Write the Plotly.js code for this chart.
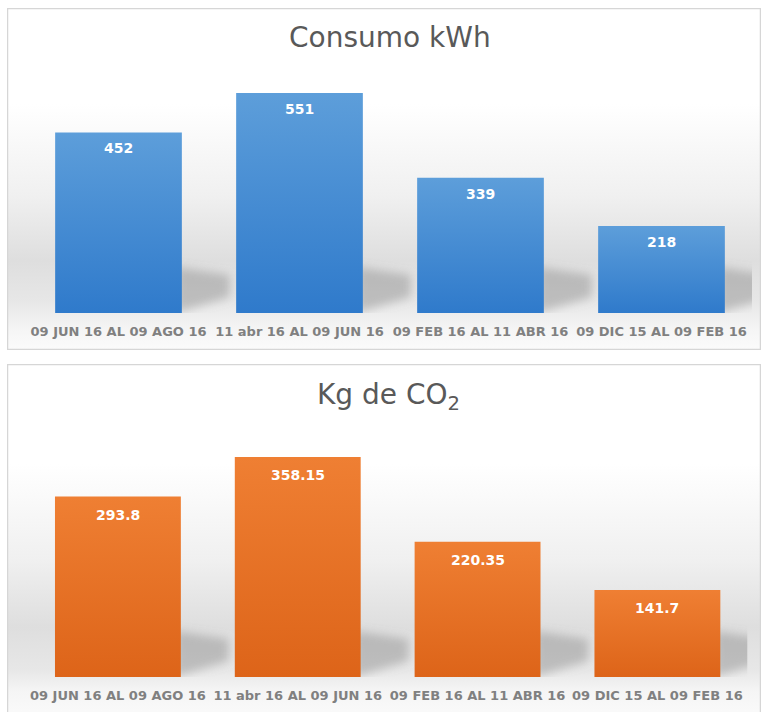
<!DOCTYPE html>
<html>
<head>
<meta charset="utf-8">
<script src="https://cdn.plot.ly/plotly-3.0.1.min.js"></script>
<style>
  html, body { margin: 0; padding: 0; background: #ffffff; }
  #chart { width: 763px; height: 712px; }
</style>
</head>
<body>
<svg width="0" height="0" style="position:absolute">
  <defs>
    <linearGradient id="gradBlue" x1="0" y1="0" x2="0" y2="1">
      <stop offset="0" stop-color="#5D9EDA"/>
      <stop offset="1" stop-color="#2F7ACB"/>
    </linearGradient>
    <linearGradient id="gradOrange" x1="0" y1="0" x2="0" y2="1">
      <stop offset="0" stop-color="#EF7F33"/>
      <stop offset="1" stop-color="#DD6419"/>
    </linearGradient>
    <filter id="shadowBlur" x="-50%" y="-50%" width="200%" height="200%">
      <feGaussianBlur stdDeviation="5"/>
    </filter>
  </defs>
</svg>
<div id="chart"></div>
<script>
// ---- data ----
const categories = [
  "09 JUN 16 AL 09 AGO 16",
  "11 abr 16 AL 09 JUN 16",
  "09 FEB 16 AL 11 ABR 16",
  "09 DIC 15 AL 09 FEB 16"
];
const kwhValues = [452, 551, 339, 218];
const co2Values = [293.8, 358.15, 220.35, 141.7];
const titleTop = "Consumo kWh";
const titleBottom = "Kg de CO<sub>2</sub>";

// ---- styling helpers ----
const W = 763, H = 712;
function panelSvg(w, h, stops) {
  let s = '<svg xmlns="http://www.w3.org/2000/svg" width="' + w + '" height="' + h + '">' +
    '<defs><linearGradient id="g" x1="0" y1="0" x2="0" y2="1">';
  stops.forEach(st => { s += '<stop offset="' + st[0] + '" stop-color="' + st[1] + '"/>'; });
  s += '</linearGradient></defs>' +
    '<rect x="0.5" y="0.5" width="' + (w - 1) + '" height="' + (h - 1) + '" fill="url(#g)" stroke="#d6d6d6" stroke-width="1.5"/></svg>';
  return 'data:image/svg+xml;charset=utf-8,' + encodeURIComponent(s);
}

const tickFont = { family: 'DejaVu Sans', size: 13, color: '#808080', weight: 'bold' };
const valueFont = { family: 'DejaVu Sans', size: 14, color: '#ffffff', weight: 'bold' };
const titleFont = { family: 'DejaVu Sans', size: 28, color: '#595959' };

const traces = [
  {
    type: 'bar', x: categories, y: kwhValues, xaxis: 'x', yaxis: 'y',
    marker: { color: '#4A8CD3' }, hoverinfo: 'skip', showlegend: false
  },
  {
    type: 'bar', x: categories, y: co2Values, xaxis: 'x2', yaxis: 'y2',
    marker: { color: '#E8732A' }, hoverinfo: 'skip', showlegend: false
  }
];

const annotations = [
  { xref: 'paper', yref: 'paper', x: 390 / W, y: (H - 37) / H, text: titleTop,
    showarrow: false, xanchor: 'center', yanchor: 'middle', font: titleFont },
  { xref: 'paper', yref: 'paper', x: 388 / W, y: (H - 396) / H, text: titleBottom,
    showarrow: false, xanchor: 'center', yanchor: 'middle', font: titleFont }
];
kwhValues.forEach((v, i) => annotations.push({
  xref: 'x', yref: 'y', x: i, y: v, text: String(v), showarrow: false,
  yanchor: 'top', yshift: -6, font: valueFont
}));
co2Values.forEach((v, i) => annotations.push({
  xref: 'x2', yref: 'y2', x: i, y: v, text: String(v), showarrow: false,
  yanchor: 'top', yshift: -8, font: valueFont
}));

const shapes = [];
function addShadows(xref, yref, n) {
  for (let i = 0; i < n; i++) {
    shapes.push({
      type: 'path', xref: xref, yref: yref, xsizemode: 'pixel', ysizemode: 'pixel',
      xanchor: i + 0.35, yanchor: 0, layer: 'below',
      path: 'M-6,0 L-6,46 L48,38 L48,16 Z',
      fillcolor: 'rgba(130,130,130,0.42)', line: { width: 0 }
    });
  }
}
addShadows('x', 'y', kwhValues.length);
addShadows('x2', 'y2', co2Values.length);

const axisX = {
  type: 'category', showgrid: false, zeroline: false, showline: false,
  ticks: 'outside', ticklen: 6, tickcolor: 'rgba(0,0,0,0)', tickangle: 0,
  tickfont: tickFont, fixedrange: true, range: [-0.5, categories.length - 0.5]
};
const axisY = {
  showgrid: false, zeroline: false, showline: false, showticklabels: false,
  ticks: '', fixedrange: true
};

const layout = {
  width: W, height: H,
  margin: { l: 0, r: 0, t: 0, b: 0 },
  paper_bgcolor: '#ffffff', plot_bgcolor: 'rgba(0,0,0,0)',
  bargap: 0.3,
  showlegend: false,
  xaxis: Object.assign({}, axisX, { domain: [28 / W, 752 / W], anchor: 'y' }),
  yaxis: Object.assign({}, axisY, { domain: [(H - 313) / H, (H - 73.4) / H], range: [0, 600], anchor: 'x' }),
  xaxis2: Object.assign({}, axisX, { domain: [28 / W, 747.3 / W], anchor: 'y2' }),
  yaxis2: Object.assign({}, axisY, { domain: [(H - 677) / H, (H - 431.4) / H], range: [0, 400], anchor: 'x2' }),
  annotations: annotations,
  shapes: shapes,
  images: [
    { source: panelSvg(754, 342, [
        [0, '#ffffff'], [0.28, '#ffffff'], [0.55, '#f0f0f0'], [0.74, '#dedede'],
        [0.86, '#e7e7e7'], [0.94, '#f5f5f5'], [1, '#fbfbfb']]),
      xref: 'paper', yref: 'paper',
      x: 7 / W, y: (H - 8) / H, sizex: 754 / W, sizey: 342 / H,
      xanchor: 'left', yanchor: 'top', sizing: 'stretch', layer: 'below' },
    { source: panelSvg(754, 356, [
        [0, '#ffffff'], [0.28, '#ffffff'], [0.55, '#f0f0f0'], [0.74, '#dedede'],
        [0.86, '#e7e7e7'], [0.92, '#f5f5f5'], [1, '#fbfbfb']]),
      xref: 'paper', yref: 'paper',
      x: 7 / W, y: (H - 364) / H, sizex: 754 / W, sizey: 356 / H,
      xanchor: 'left', yanchor: 'top', sizing: 'stretch', layer: 'below' }
  ]
};

Plotly.newPlot('chart', traces, layout, { staticPlot: true, displayModeBar: false }).then(gd => {
  const barTraces = gd.querySelectorAll('.barlayer .trace');
  const grads = ['url(#gradBlue)', 'url(#gradOrange)'];
  barTraces.forEach((t, k) => {
    t.querySelectorAll('path').forEach(p => { p.style.fill = grads[k]; });
  });
  gd.querySelectorAll('.shapelayer path').forEach(p => {
    p.setAttribute('filter', 'url(#shadowBlur)');
  });
});
</script>
</body>
</html>
